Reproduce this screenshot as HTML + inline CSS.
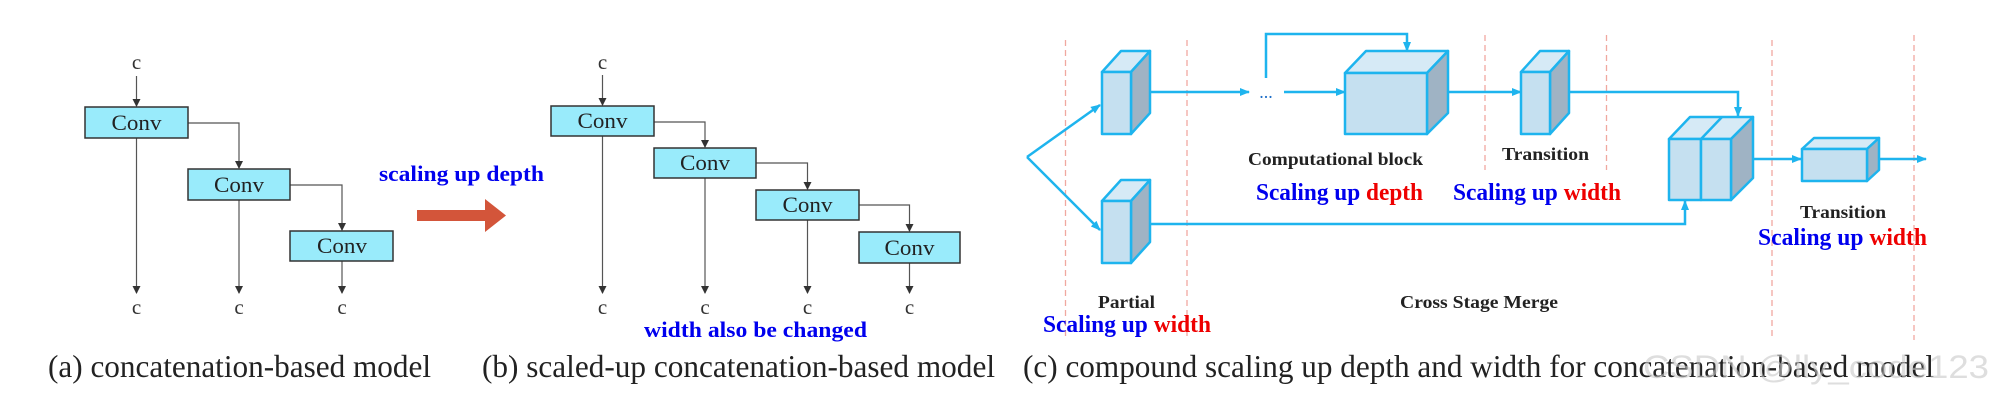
<!DOCTYPE html>
<html><head><meta charset="utf-8"><style>body{margin:0;background:#fff}svg{display:block}</style></head>
<body>
<svg width="1990" height="402" viewBox="0 0 1990 402" xmlns="http://www.w3.org/2000/svg" font-family="Liberation Serif, serif">
<defs>
<marker id="ak" markerWidth="8" markerHeight="8" refX="7" refY="4" orient="auto" markerUnits="userSpaceOnUse"><path d="M0,0 L8,4 L0,8 z" fill="#333"/></marker>
<marker id="ab" markerWidth="10" markerHeight="8" refX="9" refY="4" orient="auto" markerUnits="userSpaceOnUse"><path d="M0,0 L10,4 L0,8 z" fill="#1eb4ee"/></marker>
</defs>
<g fill="#333" font-size="21" text-anchor="middle">
<text x="136.5" y="69">c</text>
<text x="136.5" y="314">c</text><text x="239" y="314">c</text><text x="342" y="314">c</text>
<text x="602.5" y="69">c</text>
<text x="602.5" y="314">c</text><text x="705" y="314">c</text><text x="807.5" y="314">c</text><text x="909.5" y="314">c</text>
</g>
<g stroke="#555" stroke-width="1.2" fill="none">
<line x1="136.5" y1="76" x2="136.5" y2="106" marker-end="url(#ak)"/>
<line x1="136.5" y1="138" x2="136.5" y2="293" marker-end="url(#ak)"/>
<polyline points="188,123 239,123 239,168" marker-end="url(#ak)"/>
<line x1="239" y1="200" x2="239" y2="293" marker-end="url(#ak)"/>
<polyline points="290,185 342,185 342,230" marker-end="url(#ak)"/>
<line x1="342" y1="261" x2="342" y2="293" marker-end="url(#ak)"/>
<line x1="602.5" y1="75" x2="602.5" y2="105" marker-end="url(#ak)"/>
<line x1="602.5" y1="136" x2="602.5" y2="293" marker-end="url(#ak)"/>
<polyline points="654,122 705,122 705,147" marker-end="url(#ak)"/>
<line x1="705" y1="178" x2="705" y2="293" marker-end="url(#ak)"/>
<polyline points="756,163 807.5,163 807.5,189" marker-end="url(#ak)"/>
<line x1="807.5" y1="220" x2="807.5" y2="293" marker-end="url(#ak)"/>
<polyline points="859,205 909.5,205 909.5,231" marker-end="url(#ak)"/>
<line x1="909.5" y1="263" x2="909.5" y2="293" marker-end="url(#ak)"/>
</g>
<g fill="#99ebfb" stroke="#333" stroke-width="1.5">
<rect x="85" y="107" width="103" height="31"/><rect x="188" y="169" width="102" height="31"/><rect x="290" y="231" width="103" height="30"/>
<rect x="551" y="106" width="103" height="30"/><rect x="654" y="148" width="102" height="30"/><rect x="756" y="190" width="103" height="30"/><rect x="859" y="232" width="101" height="31"/>
</g>
<g fill="#222" font-size="22" text-anchor="middle">
<text x="136.5" y="130" textLength="50" lengthAdjust="spacingAndGlyphs">Conv</text><text x="239" y="192" textLength="50" lengthAdjust="spacingAndGlyphs">Conv</text><text x="342" y="253" textLength="50" lengthAdjust="spacingAndGlyphs">Conv</text>
<text x="602.5" y="128" textLength="50" lengthAdjust="spacingAndGlyphs">Conv</text><text x="705" y="170" textLength="50" lengthAdjust="spacingAndGlyphs">Conv</text><text x="807.5" y="212" textLength="50" lengthAdjust="spacingAndGlyphs">Conv</text><text x="909.5" y="255" textLength="50" lengthAdjust="spacingAndGlyphs">Conv</text>
</g>
<text x="379" y="181" font-size="22" font-weight="bold" fill="#0000ee" textLength="165" lengthAdjust="spacingAndGlyphs">scaling up depth</text>
<path d="M417,210 L485,210 L485,199 L506,215.5 L485,232 L485,221 L417,221 z" fill="#d3553a"/>
<text x="644" y="337" font-size="22" font-weight="bold" fill="#0000ee" textLength="223" lengthAdjust="spacingAndGlyphs">width also be changed</text>
<g font-size="32" fill="#222">
<text x="48" y="377" textLength="383" lengthAdjust="spacingAndGlyphs">(a) concatenation-based model</text>
<text x="482" y="377" textLength="513" lengthAdjust="spacingAndGlyphs">(b) scaled-up concatenation-based model</text>
<text x="1023" y="377" textLength="911" lengthAdjust="spacingAndGlyphs">(c) compound scaling up depth and width for concatenation-based model</text>
</g>
<text x="1643" y="378" font-size="32" font-family="Liberation Sans, sans-serif" fill="#c8c8c8" fill-opacity="0.6" textLength="346" lengthAdjust="spacingAndGlyphs">CSDN @lly_code123</text>
<g stroke="#f0a8a0" stroke-width="1.3" stroke-dasharray="6,4">
<line x1="1065.5" y1="40" x2="1065.5" y2="340"/><line x1="1187" y1="40" x2="1187" y2="340"/>
<line x1="1485" y1="35" x2="1485" y2="170"/><line x1="1606.5" y1="35" x2="1606.5" y2="170"/>
<line x1="1772" y1="40" x2="1772" y2="340"/><line x1="1914" y1="35" x2="1914" y2="340"/>
</g>
<g stroke="#1eb4ee" stroke-width="2.5" fill="none">
<line x1="1027" y1="157" x2="1100" y2="105" marker-end="url(#ab)"/>
<line x1="1027" y1="157" x2="1100" y2="230" marker-end="url(#ab)"/>
<line x1="1140" y1="92" x2="1249" y2="92" marker-end="url(#ab)"/>
<line x1="1284" y1="92" x2="1345" y2="92" marker-end="url(#ab)"/>
<polyline points="1266,78 1266,34 1407,34 1407,51" marker-end="url(#ab)"/>
<line x1="1448" y1="92" x2="1521" y2="92" marker-end="url(#ab)"/>
<polyline points="1560,92 1738,92 1738,116" marker-end="url(#ab)"/>
<polyline points="1140,224 1685,224 1685,201" marker-end="url(#ab)"/>
<line x1="1739" y1="159" x2="1801" y2="159" marker-end="url(#ab)"/>
<line x1="1873" y1="159" x2="1926" y2="159" marker-end="url(#ab)"/>
</g>
<text x="1266" y="98" font-size="18" fill="#1e6ec8" text-anchor="middle">...</text>
<g stroke="#1eb4ee" stroke-width="2.5" stroke-linejoin="round">
<g><path d="M1102,72 L1121,51 L1150,51 L1131,72 z" fill="#d6eaf6"/><path d="M1131,72 L1150,51 L1150,113 L1131,134 z" fill="#9fb3c4"/><rect x="1102" y="72" width="29" height="62" fill="#c5e0f0"/></g>
<g><path d="M1102,201 L1121,180 L1150,180 L1131,201 z" fill="#d6eaf6"/><path d="M1131,201 L1150,180 L1150,242 L1131,263 z" fill="#9fb3c4"/><rect x="1102" y="201" width="29" height="62" fill="#c5e0f0"/></g>
<g><path d="M1345,73 L1366,51 L1448,51 L1427,73 z" fill="#d6eaf6"/><path d="M1427,73 L1448,51 L1448,113 L1427,134 z" fill="#9fb3c4"/><rect x="1345" y="73" width="82" height="61" fill="#c5e0f0"/></g>
<g><path d="M1521,72 L1540,51 L1569,51 L1550,72 z" fill="#d6eaf6"/><path d="M1550,72 L1569,51 L1569,113 L1550,134 z" fill="#9fb3c4"/><rect x="1521" y="72" width="29" height="62" fill="#c5e0f0"/></g>
<g><path d="M1669,139 L1690,117 L1753,117 L1731,139 z" fill="#d6eaf6"/><line x1="1701" y1="139" x2="1722" y2="117"/><path d="M1731,139 L1753,117 L1753,178 L1731,200 z" fill="#9fb3c4"/><rect x="1669" y="139" width="32" height="61" fill="#c5e0f0"/><rect x="1701" y="139" width="30" height="61" fill="#c5e0f0"/></g>
<g><path d="M1802,149 L1814,138 L1879,138 L1867,149 z" fill="#d6eaf6"/><path d="M1867,149 L1879,138 L1879,170 L1867,181 z" fill="#9fb3c4"/><rect x="1802" y="149" width="65" height="32" fill="#c5e0f0"/></g>
</g>
<g font-size="18" font-weight="bold" fill="#222">
<text x="1248" y="165" textLength="175" lengthAdjust="spacingAndGlyphs">Computational block</text>
<text x="1502" y="160" textLength="87" lengthAdjust="spacingAndGlyphs">Transition</text>
<text x="1800" y="218" textLength="86" lengthAdjust="spacingAndGlyphs">Transition</text>
<text x="1098" y="308" textLength="57" lengthAdjust="spacingAndGlyphs">Partial</text>
<text x="1400" y="308" textLength="158" lengthAdjust="spacingAndGlyphs">Cross Stage Merge</text>
</g>
<g font-size="24" font-weight="bold">
<text x="1256" y="200" textLength="167" lengthAdjust="spacingAndGlyphs"><tspan fill="#0000ee">Scaling up </tspan><tspan fill="#ee0000">depth</tspan></text>
<text x="1453" y="200" textLength="168" lengthAdjust="spacingAndGlyphs"><tspan fill="#0000ee">Scaling up </tspan><tspan fill="#ee0000">width</tspan></text>
<text x="1758" y="245" textLength="169" lengthAdjust="spacingAndGlyphs"><tspan fill="#0000ee">Scaling up </tspan><tspan fill="#ee0000">width</tspan></text>
<text x="1043" y="332" textLength="168" lengthAdjust="spacingAndGlyphs"><tspan fill="#0000ee">Scaling up </tspan><tspan fill="#ee0000">width</tspan></text>
</g>
</svg>
</body></html>
